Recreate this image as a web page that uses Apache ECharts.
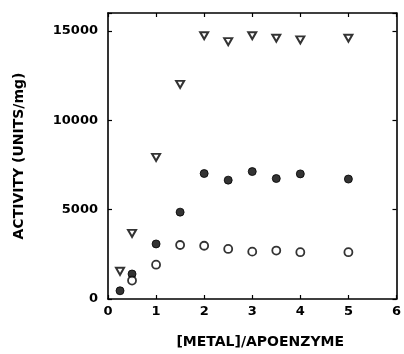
<!DOCTYPE html>
<html>
<head>
<meta charset="utf-8">
<script src="https://cdn.jsdelivr.net/npm/echarts@6/dist/echarts.min.js"></script>
<style>
  html, body { margin: 0; padding: 0; background: #fff; }
  #main { width: 404px; height: 354px; }
</style>
</head>
<body>
<div id="main"></div>
<script>
// metal / apoenzyme ratios and activities (units/mg)
var ratioTri = [0.25, 0.5, 1, 1.5, 2, 2.5, 3, 3.5, 4, 5];
var actTri = [1550, 3670, 7920, 12010, 14730, 14400, 14730, 14590, 14500, 14590];

var ratioFilled = [0.25, 0.5, 1, 1.5, 2, 2.5, 3, 3.5, 4, 5];
var actFilled = [460, 1400, 3080, 4860, 7020, 6650, 7130, 6740, 7000, 6710];

var ratioOpen = [0.5, 1, 1.5, 2, 2.5, 3, 3.5, 4, 5];
var actOpen = [1030, 1920, 3020, 2980, 2800, 2650, 2710, 2620, 2620];

var yTicks = [0, 5000, 10000, 15000];

function pairs(xs, ys) {
    return xs.map(function (x, i) { return [x, ys[i]]; });
}

var font = 'DejaVu Sans';

var option = {
    backgroundColor: '#fff',
    animation: false,
    grid: {
        left: 108,
        right: 5,
        top: 13,
        bottom: 53
    },
    xAxis: [{
        type: 'value',
        min: 0,
        max: 6,
        interval: 1,
        name: '[METAL]/APOENZYME',
        nameLocation: 'middle',
        nameGap: 36,
        nameTextStyle: {
            color: '#000',
            fontFamily: font,
            fontWeight: 'bold',
            fontSize: 14,
            padding: [0, 0, 0, 16]
        },
        axisLine: { show: true, onZero: false, lineStyle: { color: '#000', width: 1.6 } },
        axisTick: { show: true, inside: true, length: 4, lineStyle: { color: '#000', width: 1.2 } },
        axisLabel: {
            color: '#000',
            fontFamily: font,
            fontWeight: 'bold',
            fontSize: 13,
            margin: 6
        },
        splitLine: { show: false }
    }, {
        type: 'value',
        position: 'top',
        min: 0,
        max: 6,
        interval: 1,
        axisLine: { show: true, onZero: false, lineStyle: { color: '#000', width: 1.6 } },
        axisTick: { show: true, inside: true, length: 4, lineStyle: { color: '#000', width: 1.2 } },
        axisLabel: { show: false },
        splitLine: { show: false }
    }],
    yAxis: [{
        type: 'value',
        min: 0,
        max: 16000,
        interval: 5000,
        name: 'ACTIVITY (UNITS/mg)',
        nameLocation: 'middle',
        nameGap: 82,
        nameTextStyle: {
            color: '#000',
            fontFamily: font,
            fontWeight: 'bold',
            fontSize: 14
        },
        axisLine: { show: true, onZero: false, lineStyle: { color: '#000', width: 1.6 } },
        axisTick: { show: true, inside: true, length: 4, lineStyle: { color: '#000', width: 1.2 } },
        axisLabel: {
            color: '#000',
            fontFamily: font,
            fontWeight: 'bold',
            fontSize: 13,
            margin: 10,
            formatter: function (v) {
                return yTicks.indexOf(v) >= 0 ? String(v) : '';
            }
        },
        splitLine: { show: false }
    }, {
        type: 'value',
        position: 'right',
        min: 0,
        max: 16000,
        interval: 5000,
        axisLine: { show: true, onZero: false, lineStyle: { color: '#000', width: 1.6 } },
        axisTick: { show: true, inside: true, length: 4, lineStyle: { color: '#000', width: 1.2 } },
        axisLabel: { show: false },
        splitLine: { show: false }
    }],
    series: [{
        name: 'filled',
        type: 'scatter',
        symbol: 'circle',
        symbolSize: 8,
        itemStyle: { color: '#000', borderColor: '#000', borderWidth: 1 },
        data: pairs(ratioFilled, actFilled)
    }, {
        name: 'open',
        type: 'scatter',
        symbol: 'circle',
        symbolSize: 8,
        itemStyle: { color: '#fff', borderColor: '#000', borderWidth: 1.8 },
        data: pairs(ratioOpen, actOpen)
    }, {
        name: 'triangle',
        type: 'scatter',
        symbol: 'triangle',
        symbolRotate: 180,
        symbolSize: [8, 7],
        itemStyle: { color: '#fff', borderColor: '#000', borderWidth: 2 },
        data: pairs(ratioTri, actTri)
    }]
};

var myChart = echarts.init(document.getElementById('main'));
myChart.setOption(option);
</script>
</body>
</html>
